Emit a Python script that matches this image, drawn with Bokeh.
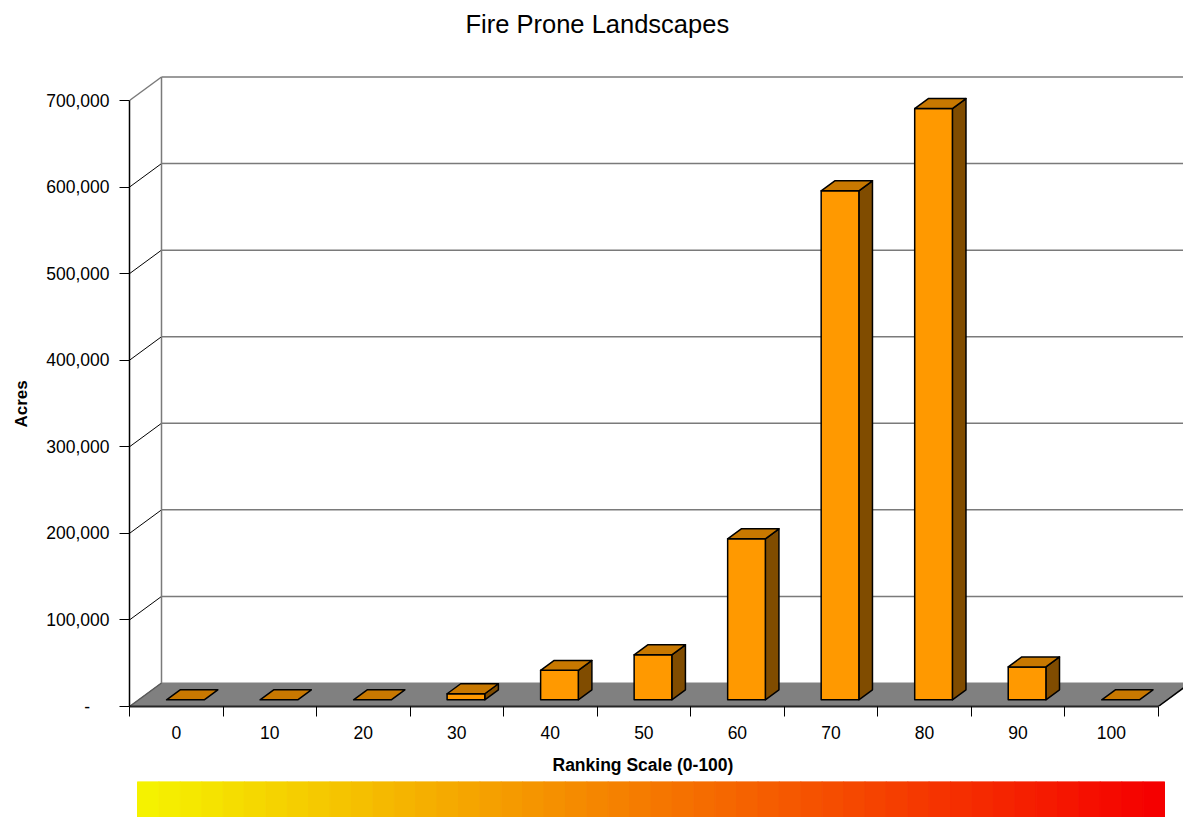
from bokeh.plotting import figure
from bokeh.models import Range1d, FixedTicker, Title
from bokeh.layouts import column
from bokeh.embed import file_html
from bokeh.resources import INLINE

# ---------------- data ----------------
categories = ["0", "10", "20", "30", "40", "50", "60", "70", "80", "90", "100"]
acres = [0, 0, 0, 7000, 34000, 52000, 186000, 588000, 683000, 38000, 0]
y_ticks = [0, 100000, 200000, 300000, 400000, 500000, 600000, 700000]
y_tick_labels = ["-\u00a0\u00a0\u00a0\u00a0", "100,000", "200,000", "300,000",
                 "400,000", "500,000", "600,000", "700,000"]
scale_range = [0, 100]
title_text = "Fire Prone Landscapes"
x_title = "Ranking Scale (0-100)"
y_title = "Acres"

# ---------------- layout / style constants ----------------
FONT = "Liberation Sans"
W = 1183
H_TOTAL = 817
H_GRAD = 71
H_MAIN = H_TOTAL - H_GRAD
FRAME_L = 129
FRAME_T = 44
FRAME_B = 706
PX_PER_CAT = 93.52
PX_PER_100K = 86.57
GRAD_L, GRAD_R = 137, 1164

n = len(categories)
x_end = (W - FRAME_L) / PX_PER_CAT
y_end = (FRAME_B - FRAME_T) / PX_PER_100K * 100000
y_max = y_ticks[-1]

DX = 32 / PX_PER_CAT                 # full depth, x (category units)
DY = 23.5 / PX_PER_100K * 100000     # full depth, y (value units)
F0, F1 = 0.285, 0.71                 # bar depth span (fraction of floor depth)
BAR_W = 0.403

FRONT = "#FF9900"
TOP = "#C87800"
SIDE = "#804C00"
WALL_LINE = "#7a7a7a"

p = figure(width=W, height=H_MAIN, x_range=Range1d(0, x_end), y_range=Range1d(0, y_end),
           output_backend="svg", toolbar_location=None,
           min_border_left=FRAME_L, min_border_right=0,
           min_border_top=FRAME_T, min_border_bottom=H_MAIN - FRAME_B)
p.outline_line_color = None
p.xgrid.visible = False
p.ygrid.visible = False
p.background_fill_color = "white"
p.border_fill_color = "white"

p.title.text = title_text
p.title.text_font = FONT
p.title.text_font_size = "25.5px"
p.title.text_font_style = "normal"
p.title.text_color = "black"
p.title.align = "left"
p.title.offset = 336
p.title.standoff = 14

# ---- back wall & floor ----
p.patch([0, n, n + DX, DX], [0, 0, DY, DY], fill_color="#808080", line_color="#808080", line_width=1)
p.segment(x0=[n], y0=[0], x1=[n + DX], y1=[DY], line_color="black", line_width=1.5)
p.segment(x0=[0], y0=[0], x1=[DX], y1=[DY], line_color="#5a5a5a", line_width=1.5)

grid_vals = y_ticks[1:]
p.segment(x0=[DX] * len(grid_vals), y0=[v + DY for v in grid_vals],
          x1=[x_end + 1] * len(grid_vals), y1=[v + DY for v in grid_vals],
          line_color=WALL_LINE, line_width=1.5)
inner = y_ticks[1:-1]
p.segment(x0=[0] * len(inner), y0=inner, x1=[DX] * len(inner), y1=[v + DY for v in inner],
          line_color="black", line_width=1)
p.segment(x0=[0], y0=[y_max], x1=[DX], y1=[y_max + DY], line_color=WALL_LINE, line_width=1.5)
p.segment(x0=[DX], y0=[DY], x1=[DX], y1=[y_max + DY], line_color=WALL_LINE, line_width=1.5)

# ---- 3D bars ----
front_xs, front_ys, side_xs, side_ys, top_xs, top_ys = [], [], [], [], [], []
ddx = (F1 - F0) * DX
ddy = (F1 - F0) * DY
for i, v in enumerate(acres):
    xl = i + 0.5 - BAR_W / 2 + F0 * DX
    xr = xl + BAR_W
    yb = F0 * DY
    yt = yb + v
    top_xs.append([xl, xr, xr + ddx, xl + ddx])
    top_ys.append([yt, yt, yt + ddy, yt + ddy])
    if v > 0:
        front_xs.append([xl, xr, xr, xl])
        front_ys.append([yb, yb, yt, yt])
        side_xs.append([xr, xr + ddx, xr + ddx, xr])
        side_ys.append([yb, yb + ddy, yt + ddy, yt])

p.patches(side_xs, side_ys, fill_color=SIDE, line_color="black", line_width=1.5, line_join="round")
p.patches(front_xs, front_ys, fill_color=FRONT, line_color="black", line_width=1.5, line_join="round")
p.patches(top_xs, top_ys, fill_color=TOP, line_color="black", line_width=1.5, line_join="round")

# ---- axes ----
xa = p.xaxis[0]
xa.ticker = FixedTicker(ticks=[i + 0.5 for i in range(n)], minor_ticks=list(range(n + 1)))
xa.major_label_overrides = {i + 0.5: c for i, c in enumerate(categories)}
xa.bounds = (0, n)
xa.axis_line_color = "#262626"
xa.axis_line_width = 2
xa.major_tick_out = 0
xa.major_tick_in = 0
xa.minor_tick_out = 10
xa.minor_tick_in = 0
xa.minor_tick_line_color = "black"
xa.major_label_text_font = FONT
xa.major_label_text_font_size = "17.5px"
xa.major_label_text_color = "black"
xa.major_label_standoff = 9

ya = p.yaxis[0]
ya.ticker = FixedTicker(ticks=y_ticks, minor_ticks=[])
ya.major_label_overrides = {t: lab for t, lab in zip(y_ticks, y_tick_labels)}
ya.bounds = (0, y_max)
ya.axis_line_color = "black"
ya.axis_line_width = 1.5
ya.major_tick_out = 10
ya.major_tick_in = 0
ya.major_tick_line_color = "black"
ya.minor_tick_out = 0
ya.minor_tick_in = 0
ya.major_label_text_font = FONT
ya.major_label_text_font_size = "17.5px"
ya.major_label_text_color = "black"
ya.major_label_standoff = 10

# y-axis title (left panel, outside tick labels)
p.add_layout(Title(text=y_title, align="left", offset=279, vertical_align="top", standoff=21,
                   text_font=FONT, text_font_size="17px", text_font_style="bold",
                   text_color="black"), "left")

# ---------------- colour scale bar (with the x-axis title above it) ----------------
g_start = scale_range[0] - (GRAD_L - FRAME_L) / (GRAD_R - GRAD_L) * (scale_range[1] - scale_range[0])
g_end = scale_range[1] + (W - GRAD_R) / (GRAD_R - GRAD_L) * (scale_range[1] - scale_range[0])
g = figure(width=W, height=H_GRAD, x_range=Range1d(g_start, g_end), y_range=Range1d(0, 1),
           output_backend="svg", toolbar_location=None, x_axis_type=None, y_axis_type=None,
           min_border_left=FRAME_L, min_border_right=0, min_border_top=33, min_border_bottom=0)
g.outline_line_color = None
g.grid.visible = False
g.border_fill_color = "white"
g.background_fill_color = "white"
g.title.text = x_title
g.title.text_font = FONT
g.title.text_font_size = "17.5px"
g.title.text_font_style = "bold"
g.title.text_color = "black"
g.title.align = "left"
g.title.offset = 423
g.title.standoff = 13

N = 48
start_rgb = (245, 242, 0)
end_rgb = (245, 0, 0)
lefts, rights, cols = [], [], []
span = scale_range[1] - scale_range[0]
for k in range(N):
    t = k / (N - 1)
    r = round(start_rgb[0] + (end_rgb[0] - start_rgb[0]) * t)
    gg = round(start_rgb[1] + (end_rgb[1] - start_rgb[1]) * t)
    b = round(start_rgb[2] + (end_rgb[2] - start_rgb[2]) * t)
    cols.append("#%02x%02x%02x" % (r, gg, b))
    lefts.append(scale_range[0] + span * k / N)
    rights.append(scale_range[0] + span * (k + 1) / N)
g.quad(left=lefts, right=rights, bottom=0, top=1, fill_color=cols, line_color=cols, line_width=1)

layout = column(p, g, spacing=0)
open("out.html", "w").write(file_html(layout, INLINE))
